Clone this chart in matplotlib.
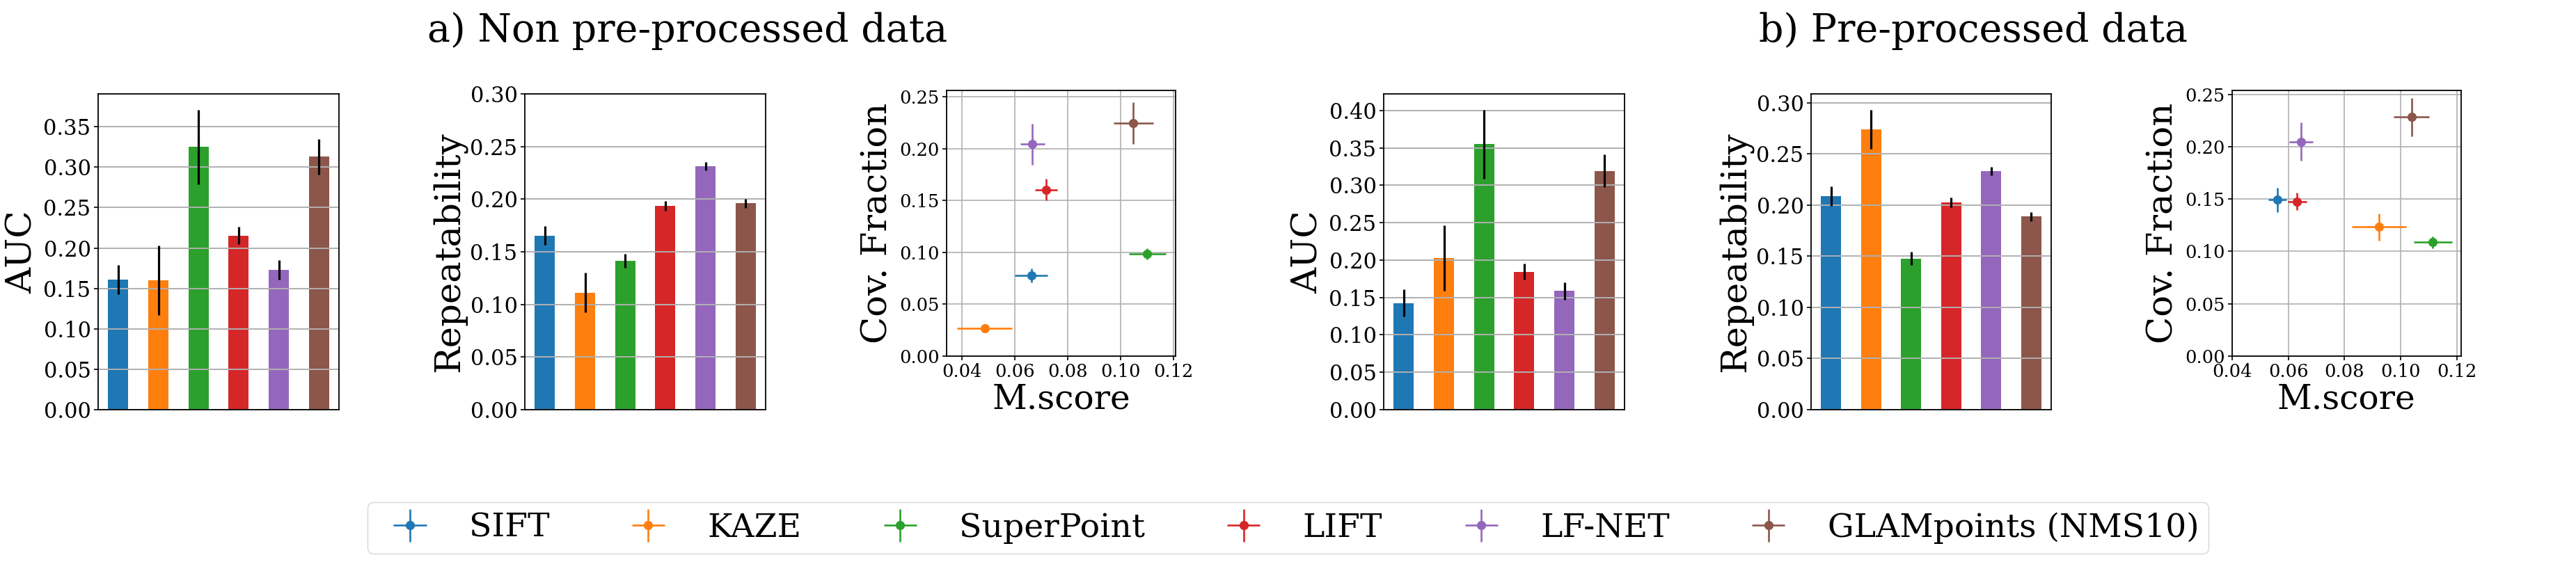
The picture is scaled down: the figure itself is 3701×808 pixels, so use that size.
"""Keypoint detector comparison: AUC, repeatability and coverage vs matching score."""
import matplotlib
matplotlib.use("Agg")
import matplotlib.pyplot as plt
from matplotlib.ticker import MultipleLocator, FormatStrFormatter
import numpy as np

methods = ["SIFT", "KAZE", "SuperPoint", "LIFT", "LF-NET", "GLAMpoints (NMS10)"]
colors = ["#1f77b4", "#ff7f0e", "#2ca02c", "#d62728", "#9467bd", "#8c564b"]

# a) non pre-processed data
auc_raw = [0.161, 0.160, 0.325, 0.2155, 0.1727, 0.313]
auc_raw_err = [0.018, 0.043, 0.046, 0.011, 0.012, 0.022]
rep_raw = [0.1653, 0.1113, 0.1415, 0.1935, 0.2314, 0.196]
rep_raw_err = [0.009, 0.019, 0.0065, 0.0045, 0.004, 0.0044]
ms_raw = [0.0663, 0.0486, 0.1102, 0.0719, 0.0667, 0.1049]
ms_raw_err = [0.0062, 0.0104, 0.0069, 0.0042, 0.0046, 0.0075]
cov_raw = [0.0777, 0.0268, 0.0988, 0.1604, 0.2042, 0.2245]
cov_raw_err = [0.0067, 0.0008, 0.0054, 0.0103, 0.0197, 0.0203]

# b) pre-processed data
auc_pre = [0.1427, 0.203, 0.355, 0.1846, 0.1586, 0.3193]
auc_pre_err = [0.018, 0.0435, 0.046, 0.011, 0.012, 0.0217]
rep_pre = [0.2088, 0.2737, 0.1476, 0.2025, 0.2329, 0.1887]
rep_pre_err = [0.0095, 0.019, 0.0064, 0.0045, 0.004, 0.0044]
ms_pre = [0.0562, 0.0923, 0.1114, 0.0631, 0.0645, 0.1038]
ms_pre_err = [0.0032, 0.0096, 0.0068, 0.0033, 0.0043, 0.0063]
cov_pre = [0.1492, 0.1233, 0.1087, 0.1477, 0.2048, 0.2283]
cov_pre_err = [0.0116, 0.0131, 0.0058, 0.0082, 0.0183, 0.0182]

W, H = 3701, 808

plt.rcParams["font.family"] = "DejaVu Serif"

FS_TICK_BAR = 22
FS_TICK_SC = 18.5
FS_XLABEL = 35
FS_LEGEND = 34
FS_TITLE = 40
FS_YLABEL = 37


def px_axes(fig, x0, x1, y0, y1):
    return fig.add_axes([x0 / W, 1 - y1 / H, (x1 - x0) / W, (y1 - y0) / H])


def style_axes(ax, fs):
    for s in ax.spines.values():
        s.set_linewidth(1.3)
    ax.tick_params(labelsize=fs, width=1.2, length=4)
    ax.yaxis.set_major_locator(MultipleLocator(0.05))
    ax.yaxis.set_major_formatter(FormatStrFormatter("%.2f"))


def bar_panel(ax, vals, errs, ylabel, ylim):
    x = np.arange(len(vals))
    ax.bar(x, vals, width=0.5, color=colors, yerr=errs,
           error_kw=dict(ecolor="black", elinewidth=2.3, capsize=0))
    ax.set_xlim(-0.5, len(vals) - 0.5)
    ax.set_ylim(*ylim)
    ax.set_xticks([])
    ax.yaxis.grid(True, color="#b0b0b0", linewidth=1.4)
    ax.set_ylabel(ylabel, fontsize=FS_YLABEL, labelpad=4)
    style_axes(ax, FS_TICK_BAR)


def scatter_panel(ax, xs, xe, ys, ye, xlim, ylim):
    handles = []
    for i in range(len(xs)):
        h = ax.errorbar(xs[i], ys[i], xerr=xe[i], yerr=ye[i], fmt="o",
                        color=colors[i], ms=8.5, elinewidth=1.9, label=methods[i])
        handles.append(h)
    ax.set_xlim(*xlim)
    ax.set_ylim(*ylim)
    ax.set_xticks([0.04, 0.06, 0.08, 0.10, 0.12])
    ax.grid(True, color="#b0b0b0", linewidth=1.2)
    ax.set_xlabel("M.score", fontsize=FS_XLABEL, labelpad=2)
    ax.set_ylabel("Cov. Fraction", fontsize=FS_YLABEL, labelpad=5)
    style_axes(ax, FS_TICK_SC)
    return handles


fig = plt.figure(figsize=(W / 100, H / 100), dpi=100)

ax1 = px_axes(fig, 141, 487, 135, 589)
bar_panel(ax1, auc_raw, auc_raw_err, "AUC", (0, 0.3907))
ax2 = px_axes(fig, 754, 1100, 135, 589)
bar_panel(ax2, rep_raw, rep_raw_err, "Repeatability", (0, 0.30))
ax3 = px_axes(fig, 1360, 1689, 130, 512)
handles = scatter_panel(ax3, ms_raw, ms_raw_err, cov_raw, cov_raw_err,
                        (0.0342, 0.1209), (0, 0.256))

ax4 = px_axes(fig, 1988, 2334, 135, 589)
bar_panel(ax4, auc_pre, auc_pre_err, "AUC", (0, 0.4223))
ax5 = px_axes(fig, 2602, 2947, 135, 589)
bar_panel(ax5, rep_pre, rep_pre_err, "Repeatability", (0, 0.3086))
ax6 = px_axes(fig, 3207, 3536, 130, 512)
scatter_panel(ax6, ms_pre, ms_pre_err, cov_pre, cov_pre_err,
              (0.04, 0.1215), (0, 0.2538))

fig.text(988 / W, 1 - 60 / H, "a) Non pre-processed data", fontsize=FS_TITLE,
         ha="center", va="baseline")
fig.text(2835 / W, 1 - 60 / H, "b) Pre-processed data", fontsize=FS_TITLE,
         ha="center", va="baseline")

fig.legend(handles, methods, loc="lower center", bbox_to_anchor=(0.5, 12 / H),
           ncol=6, fontsize=FS_LEGEND, borderaxespad=0, borderpad=0.3)

fig.savefig("out.png", dpi=100)
